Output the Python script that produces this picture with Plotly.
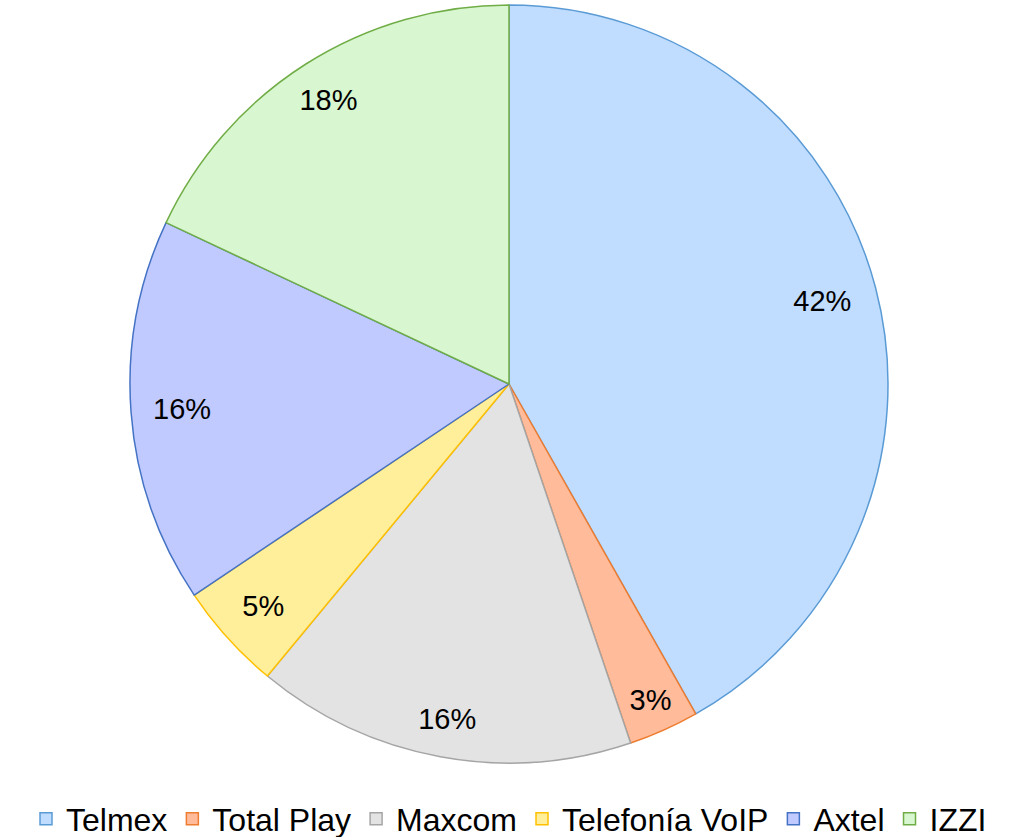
import plotly.graph_objects as go

labels = ["Telmex", "Total Play", "Maxcom", "Telefonía VoIP", "Axtel", "IZZI"]
values = [41.8, 3.0, 16.2, 4.6, 16.4, 18.0]
fill_colors = ["#c0ddff", "#ffbb9a", "#e3e3e3", "#ffee9a", "#c0caff", "#d8f6cf"]
line_colors = ["#5B9BD5", "#ED7D31", "#A5A5A5", "#FFC000", "#4472C4", "#70AD47"]

FONT = "Liberation Sans, Arial, sans-serif"
W, H = 1024, 837
M = dict(l=0, r=6, t=5, b=74)
LABEL_SIZE = 29

# small slices keep their label inside the main pie (Plotly places it near the rim)
inside_labels = {"Total Play", "Telefonía VoIP"}
# big slices: label distance from the centre as a fraction of the pie radius
label_rfrac = {"Telmex": 0.855, "Axtel": 0.865, "IZZI": 0.889, "Maxcom": 0.9}

main = go.Pie(
    labels=labels,
    values=values,
    sort=False,
    direction="clockwise",
    rotation=0,
    marker=dict(colors=fill_colors, line=dict(color=line_colors, width=1.5)),
    texttemplate=["%{percent:.0%}" if lab in inside_labels else "" for lab in labels],
    textposition="inside",
    insidetextorientation="horizontal",
    insidetextfont=dict(family=FONT, size=LABEL_SIZE, color="#000000"),
    hoverinfo="label+percent",
    domain=dict(x=[0, 1], y=[0, 1]),
    showlegend=True,
)

traces = [main]
# transparent rings: Plotly centres horizontal inside text in the middle of a
# ring, so a ring whose mid-radius is the wanted label distance carries the label
for lab, frac in label_rfrac.items():
    traces.append(go.Pie(
        labels=labels,
        values=values,
        sort=False,
        direction="clockwise",
        rotation=0,
        hole=2 * frac - 1,
        marker=dict(colors=["rgba(0,0,0,0)"] * len(labels), line=dict(width=0)),
        texttemplate=["%{percent:.0%}" if l == lab else "" for l in labels],
        textposition="inside",
        insidetextorientation="horizontal",
        insidetextfont=dict(family=FONT, size=LABEL_SIZE, color="#000000"),
        hoverinfo="skip",
        domain=dict(x=[0, 1], y=[0, 1]),
        showlegend=False,
    ))

fig = go.Figure(traces)

fig.update_layout(
    width=W,
    height=H,
    margin=M,
    paper_bgcolor="white",
    plot_bgcolor="white",
    showlegend=True,
    legend=dict(
        orientation="h",
        x=0.5,
        xanchor="center",
        yref="container",
        y=(H - 819) / H,
        yanchor="middle",
        font=dict(family=FONT, size=32, color="#000000"),
        itemwidth=30,
    ),
)

fig.write_html(
    "out.html",
    config={"displayModeBar": False},
    post_script="document.body.style.margin='0';",
)
